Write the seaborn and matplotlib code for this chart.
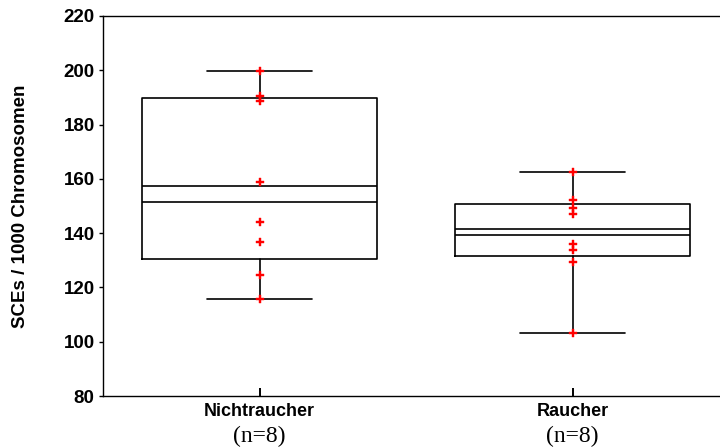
import numpy as np
import pandas as pd
import matplotlib
matplotlib.use("Agg")
import matplotlib.pyplot as plt
import seaborn as sns

# values
groups = ["Nichtraucher", "Raucher"]
n_labels = ["(n=8)", "(n=8)"]
nichtraucher = [199.7, 190.6, 188.7, 159.0, 144.2, 136.7, 124.5, 115.9]
raucher = [162.5, 152.3, 149.2, 146.9, 136.0, 133.8, 129.5, 103.2]
y_ticks = [80, 100, 120, 140, 160, 180, 200, 220]

df = pd.DataFrame({
    "gruppe": [groups[0]] * len(nichtraucher) + [groups[1]] * len(raucher),
    "sce": nichtraucher + raucher,
})


def tukey_stats(values, label):
    # box edges are Tukey hinges, whiskers go to min / max
    s = np.sort(np.asarray(values, dtype=float))
    n = len(s)
    lower = s[:(n + 1) // 2]
    upper = s[n // 2:]
    return {
        "label": label,
        "med": np.median(s),
        "q1": np.median(lower),
        "q3": np.median(upper),
        "whislo": s.min(),
        "whishi": s.max(),
        "mean": s.mean(),
        "fliers": [],
    }


stats = [tukey_stats(df.loc[df.gruppe == g, "sce"], g) for g in groups]

sns.set_style("white")
plt.rcParams["font.family"] = ["Liberation Sans", "DejaVu Sans"]
plt.rcParams["text.color"] = "black"
plt.rcParams["xtick.color"] = "black"
plt.rcParams["ytick.color"] = "black"
plt.rcParams["axes.labelcolor"] = "black"

fig = plt.figure(figsize=(7.2, 4.48), dpi=100)
ax = fig.add_axes([103 / 720, 52 / 448, 626 / 720, 380 / 448])

line_kw = dict(color="black", linewidth=1.2)
ax.bxp(stats, positions=[0, 1], widths=0.75, capwidths=0.335,
       showmeans=True, meanline=True, showfliers=False,
       boxprops=line_kw, medianprops=line_kw, meanprops=dict(line_kw, linestyle="-"),
       whiskerprops=line_kw, capprops=line_kw, manage_ticks=False)

sns.stripplot(data=df, x="gruppe", y="sce", order=groups, jitter=False,
              marker="P", size=6, color="red", linewidth=0.3, edgecolor="red",
              zorder=3, ax=ax)

ax.set_xlim(-0.5, 1.5)
ax.set_ylim(80, 220)
ax.set_yticks(y_ticks)
ax.set_xticks([0, 1])
ax.set_xticklabels(groups, fontweight="bold", fontsize=13)
ax.set_yticklabels([str(t) for t in y_ticks], fontweight="bold", fontsize=13.5)
ax.tick_params(axis="y", direction="out", length=3, width=1, pad=3, left=True)
ax.tick_params(axis="x", direction="in", length=6, width=1.4, pad=5, bottom=True)
ax.set_xlabel("")
ax.set_ylabel("SCEs / 1000 Chromosomen", fontweight="bold", fontsize=13.5, labelpad=0)
ax.yaxis.set_label_coords(-0.118, 0.5)

for sp in ax.spines.values():
    sp.set_color("black")
    sp.set_linewidth(1.0)

for i, lab in enumerate(n_labels):
    ax.text(i, -0.107, lab, transform=ax.get_xaxis_transform(), ha="center", va="center",
            fontsize=17, family=["Liberation Serif", "DejaVu Serif"])

fig.savefig("out.png", dpi=100)
